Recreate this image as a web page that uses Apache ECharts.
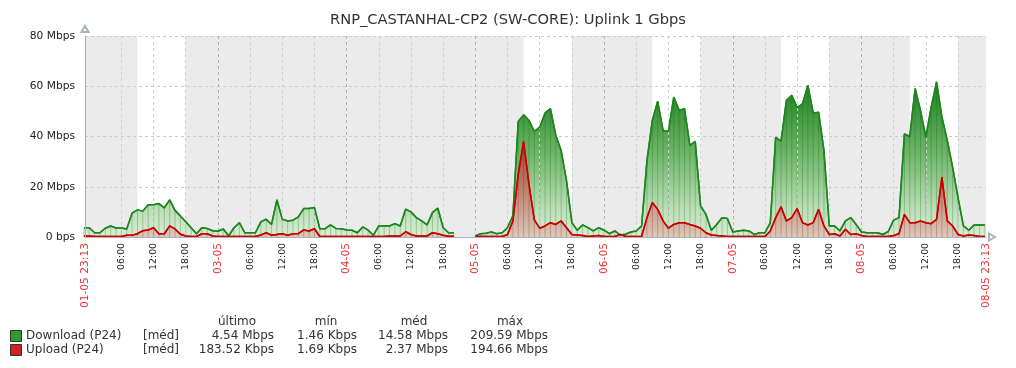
<!DOCTYPE html>
<html><head><meta charset="utf-8">
<script src="https://cdn.jsdelivr.net/npm/echarts@6/dist/echarts.min.js"></script>
<style>html,body{margin:0;padding:0;background:#fff}#c{width:1016px;height:368px}</style>
</head><body><div id="c"></div>
<script>
const title = 'RNP_CASTANHAL-CP2 (SW-CORE): Uplink 1 Gbps';
const rangeStart = '2025-05-01 23:13';
const rangeEnd = '2025-05-08 23:13';
const firstSample = '2025-05-01 23:00'; // hourly averages from here on

// Download (Mbps), hourly
const download = [3.7,
  3.7,1.7,1.7,3.5,4.4,3.6,3.6,3.2,9.5,10.8,10.3,12.8,12.8,13.3,11.6,14.8,10.6,8.4,6.1,3.7,1.3,3.7,3.4,2.5,
  2.3,3.2,0.4,3.7,5.7,1.7,1.7,1.7,6.0,7.1,5.0,14.8,7.1,6.4,6.7,8.0,11.3,11.3,11.7,3.3,3.3,4.8,3.4,3.3,
  2.8,2.7,1.7,4.0,2.7,0.7,4.4,4.4,4.4,5.3,4.4,11.1,10.0,7.7,6.4,4.8,9.7,11.5,3.7,1.7,1.7,null,null,null,
  0.4,1.3,1.5,2.0,1.3,1.7,3.7,8.4,46,48.6,46.4,42,43.7,49.3,51.1,40.4,34.4,22.4,5.7,2.7,4.8,3.7,2.4,3.7,
  2.7,1.3,2.4,0.8,1.1,2.0,2.4,4.4,30.4,46.4,54,42.4,42,55.7,50.4,51.1,36.4,38.1,12.4,9,2.7,5,7.7,7.4,
  2,2.4,2.7,2.4,1,1.7,1.7,5.7,39.7,38.1,54.4,56.4,51.5,53,60.4,49.3,49.7,34.4,4.4,4.4,2.4,6.4,7.7,5,
  2,1.7,1.7,1.7,1,2.2,6.7,7.7,41,40,59.1,50.4,39.7,51.7,61.7,47.7,38.4,27.7,15.7,4.4,2.7,4.8,4.8,4.8];

// Upload (Mbps), hourly
const upload = [0.4,
  0.4,0.2,0.2,0.2,0.2,0.2,0.2,0.7,0.7,1.3,2.5,2.8,3.7,1.3,1.3,4.4,3.2,1.1,0.4,0.2,0.2,1.3,1.3,0.4,
  0.2,0.2,0.2,0.2,0.2,0.2,0.2,0.2,0.8,1.7,0.7,1.0,1.3,0.7,1.3,1.3,2.8,2.4,3.3,0.2,0.2,0.2,0.2,0.2,
  0.2,0.2,0.2,0.2,0.2,0.2,0.2,0.2,0.4,0.4,0.4,2.1,1.0,0.4,0.4,0.4,1.7,1.3,0.7,0.3,0.3,null,null,null,
  0.2,0.2,0.2,0.2,0.2,0.2,1.0,6.4,25,38,21,6.8,3.5,4.4,5.7,5.0,6.4,3.7,1.0,0.8,0.6,0.2,0.4,0.6,
  0.2,0.2,0.2,1.0,0.3,0.2,0.2,0.2,7.7,13.7,11,6.4,3.5,5,5.7,5.7,5,4.4,3.5,1.7,0.8,0.6,0.4,0.2,
  0.2,0.2,0.2,0.2,0.2,0.2,0.2,2.4,7.7,12,6.4,7.7,11.3,5.7,4.8,5.7,11,4.4,1,1.3,0.4,3.1,1.0,1.3,
  0.6,0.2,0.2,0.2,0.2,0.2,0.6,1.3,9,5.7,5.7,6.4,5.7,5.3,7,23.7,6.4,4.4,1.0,0.4,0.8,0.6,0.2,0.2];

const xTickTimes = ['2025-05-01 23:13',
  '2025-05-02 06:00','2025-05-02 12:00','2025-05-02 18:00',
  '2025-05-03 00:00','2025-05-03 06:00','2025-05-03 12:00','2025-05-03 18:00',
  '2025-05-04 00:00','2025-05-04 06:00','2025-05-04 12:00','2025-05-04 18:00',
  '2025-05-05 00:00','2025-05-05 06:00','2025-05-05 12:00','2025-05-05 18:00',
  '2025-05-06 00:00','2025-05-06 06:00','2025-05-06 12:00','2025-05-06 18:00',
  '2025-05-07 00:00','2025-05-07 06:00','2025-05-07 12:00','2025-05-07 18:00',
  '2025-05-08 00:00','2025-05-08 06:00','2025-05-08 12:00','2025-05-08 18:00',
  '2025-05-08 23:13'];
const xTickLabels = ['01-05 23:13',
  '06:00','12:00','18:00','03-05','06:00','12:00','18:00','04-05','06:00','12:00','18:00',
  '05-05','06:00','12:00','18:00','06-05','06:00','12:00','18:00','07-05','06:00','12:00','18:00',
  '08-05','06:00','12:00','18:00','08-05 23:13'];
const workHours = [
  ['2025-05-02 09:00','2025-05-02 18:00'],
  ['2025-05-05 09:00','2025-05-05 18:00'],
  ['2025-05-06 09:00','2025-05-06 18:00'],
  ['2025-05-07 09:00','2025-05-07 18:00'],
  ['2025-05-08 09:00','2025-05-08 18:00']];
const yTickValues = [0,20,40,60,80];
const yTickLabels = ['0 bps','20 Mbps','40 Mbps','60 Mbps','80 Mbps'];

const legendHeaders = ['último','mín','méd','máx'];
const legendNames = ['Download (P24)','Upload (P24)'];
const legendFunc = ['[méd]','[méd]'];
const legendLast = ['4.54 Mbps','183.52 Kbps'];
const legendMin = ['1.46 Kbps','1.69 Kbps'];
const legendAvg = ['14.58 Mbps','2.37 Mbps'];
const legendMax = ['209.59 Mbps','194.66 Mbps'];

const FONT = 'DejaVu Sans';
const T = s => { const [d,h] = s.split(' '); const [Y,M,D] = d.split('-').map(Number); const [hh,mm] = h.split(':').map(Number); return Date.UTC(Y, M-1, D, hh, mm); };
const t0 = T(firstSample);
const times = download.map((_, k) => t0 + k * 3600e3);
const dlData = times.map((t, k) => [t, download[k]]);
const ulData = times.map((t, k) => [t, upload[k]]);
const tickVals = xTickTimes.map(T);
const labelMap = {}; tickVals.forEach((v, i) => { labelMap[v] = xTickLabels[i]; });
const yLabelMap = {}; yTickValues.forEach((v, i) => { yLabelMap[v] = yTickLabels[i]; });

const gridLines = tickVals.slice(1, -1).map((v, i) => ({
  xAxis: v,
  lineStyle: { color: /^\d\d-\d\d$/.test(xTickLabels[i + 1]) ? '#a9b3bb' : '#c9d1d7' }
}));

const dlGrad = { type: 'linear', x: 0, y: 36, x2: 0, y2: 237, global: true, colorStops: [
  { offset: 0, color: '#17701a' }, { offset: 0.3, color: '#2d8a2d' },
  { offset: 0.6, color: '#72b86d' }, { offset: 0.85, color: '#b9dcb5' }, { offset: 1, color: '#d8eed5' }] };
const ulGrad = { type: 'linear', x: 0, y: 36, x2: 0, y2: 237, global: true, colorStops: [
  { offset: 0, color: '#9a0e00' }, { offset: 0.5, color: '#a8402e' },
  { offset: 0.72, color: '#b87462' }, { offset: 1, color: '#dcc8ba' }] };

// legend
const g = [];
const headerX = [237, 326, 414, 510];
const colRight = [274, 357, 448, 548];
const rowY = [336, 350];
const swatch = ['#339933', '#cc2222'];
legendHeaders.forEach((h, i) => g.push({ type: 'text', x: headerX[i], y: 322,
  style: { text: h, font: `12px "${FONT}"`, fill: '#333', align: 'center', verticalAlign: 'middle' } }));
legendNames.forEach((n, r) => {
  g.push({ type: 'rect', shape: { x: 10.5, y: rowY[r] - 5.5, width: 11, height: 11 },
    style: { fill: swatch[r], stroke: '#333', lineWidth: 1 } });
  g.push({ type: 'text', x: 26, y: rowY[r], style: { text: n, font: `12px "${FONT}"`, fill: '#333', verticalAlign: 'middle' } });
  g.push({ type: 'text', x: 143, y: rowY[r], style: { text: legendFunc[r], font: `12px "${FONT}"`, fill: '#333', verticalAlign: 'middle' } });
  [legendLast, legendMin, legendAvg, legendMax].forEach((arr, c) => g.push({ type: 'text', x: colRight[c], y: rowY[r],
    style: { text: arr[r], font: `12px "${FONT}"`, fill: '#333', align: 'right', verticalAlign: 'middle' } }));
});

const chart = echarts.init(document.getElementById('c'));
chart.setOption({
  animation: false,
  backgroundColor: '#fff',
  title: { text: title, left: 'center', top: 8,
    textStyle: { fontFamily: FONT, fontSize: 14.67, fontWeight: 'normal', color: '#333' } },
  grid: { left: 85, right: 30, top: 36, bottom: 131, show: true, backgroundColor: '#ebebeb', borderWidth: 0 },
  xAxis: {
    type: 'value', min: T(rangeStart), max: T(rangeEnd), z: 10,
    axisLine: { show: true, onZero: false, lineStyle: { color: '#a9b3bb', width: 1 }, symbol: ['none', 'emptyTriangle'], symbolSize: [7, 6], symbolOffset: [0, 6] },
    axisTick: { show: false },
    splitLine: { show: false },
    axisLabel: {
      customValues: tickVals, rotate: 90, margin: 6, fontFamily: FONT,
      formatter: v => { const s = labelMap[v]; if (s == null) return ''; return (/^\d\d:\d\d$/.test(s) ? '{h|' : '{d|') + s + '}'; },
      rich: { h: { fontSize: 9.33, color: '#222', fontFamily: FONT }, d: { fontSize: 10.67, color: '#ee3333', fontFamily: FONT } }
    }
  },
  yAxis: [{
    type: 'value', min: 0, max: 80, interval: 20, z: 2,
    axisLine: { show: false }, axisTick: { show: false },
    axisLabel: { margin: 10, fontFamily: FONT, fontSize: 10.67, color: '#222', formatter: v => yLabelMap[v] ?? '' },
    splitLine: { show: true, lineStyle: { type: [3, 3], color: '#c4ccd3', width: 1 } }
  }, {
    type: 'value', min: 0, max: 80, interval: 20, z: 10, position: 'left',
    axisLine: { show: true, onZero: false, lineStyle: { color: '#a9b3bb', width: 1 }, symbol: ['none', 'emptyTriangle'], symbolSize: [7, 6], symbolOffset: [0, 7] },
    axisTick: { show: false }, axisLabel: { show: false }, splitLine: { show: false }
  }],
  graphic: g,
  series: [
    { type: 'line', data: [], z: 1, silent: true,
      markArea: { silent: true, itemStyle: { color: '#ffffff' },
        data: workHours.map(([a, b]) => [{ xAxis: T(a) }, { xAxis: T(b) }]) } },
    { type: 'line', data: [], z: 2, silent: true,
      markLine: { silent: true, symbol: ['none', 'none'], label: { show: false },
        lineStyle: { type: [3, 3], width: 1 }, data: gridLines } },
    { name: 'Download', type: 'line', data: dlData, z: 3, showSymbol: false, connectNulls: false,
      lineStyle: { color: '#1e861e', width: 1.5 }, itemStyle: { color: '#1e861e' }, areaStyle: { color: dlGrad, opacity: 1 } },
    { type: 'bar', data: dlData, z: 4, barWidth: 1, barGap: '-100%', silent: true,
      itemStyle: { color: 'rgba(20,100,20,0.28)' } },
    { name: 'Upload', type: 'line', data: ulData, z: 5, showSymbol: false, connectNulls: false,
      lineStyle: { color: '#cc0000', width: 1.5 }, itemStyle: { color: '#cc0000' }, areaStyle: { color: ulGrad, opacity: 1 } },
    { type: 'bar', data: ulData, z: 6, barWidth: 1, barGap: '-100%', silent: true,
      itemStyle: { color: 'rgba(120,40,20,0.28)' } },
    { type: 'line', data: dlData, z: 7, showSymbol: false, silent: true, lineStyle: { color: '#1e861e', width: 1.5 } },
    { type: 'line', data: ulData, z: 8, showSymbol: false, silent: true, lineStyle: { color: '#cc0000', width: 1.5 } }
  ]
});
</script></body></html>
